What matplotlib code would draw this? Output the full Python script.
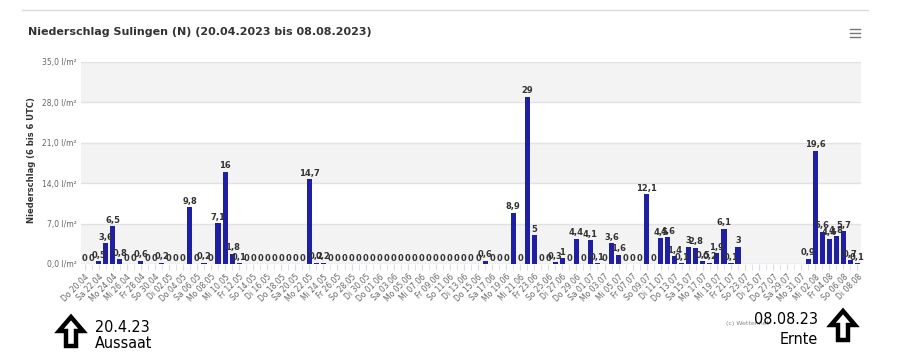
import matplotlib.pyplot as plt
import matplotlib.patches as mpatches
from matplotlib.lines import Line2D
from matplotlib import font_manager
import numpy as np
import pandas as pd

# daily precipitation (l/m²), 20.04.2023 - 08.08.2023, None = no data
dates = pd.date_range("2023-04-20", "2023-08-08", freq="D")
weekdays = ["Mo", "Di", "Mi", "Do", "Fr", "Sa", "So"]
rain = [0, 0, 0.5, 3.6, 6.5, 0.8, 0, 0, 0.6, 0,
        0, 0.2, 0, 0, 0, 9.8, 0, 0.2, 0, 7.1,
        16, 1.8, 0.1, 0, 0, 0, 0, 0, 0, 0,
        0, 0, 14.7, 0.2, 0.2, 0, 0, 0, 0, 0,
        0, 0, 0, 0, 0, 0, 0, 0, 0, 0,
        0, 0, 0, 0, 0, 0, 0, 0.6, 0, 0,
        0, 8.9, 0, 29, 5, 0, 0, 0.3, 1, 0,
        4.4, 0, 4.1, 0.1, 0, 3.6, 1.6, 0, 0, 0,
        12.1, 0, 4.5, 4.6, 1.4, 0.1, 3, 2.8, 0.5, 0.2,
        1.9, 6.1, 0.1, 3, None, None, None, None, None, None,
        None, None, None, 0.9, 19.6, 5.6, 4.4, 4.8, 5.7, 0.7,
        0.1]
yticks = [0, 7, 14, 21, 28, 35]

W, H = 908, 360
fig = plt.figure(figsize=(W / 100, H / 100), dpi=100)
fig.patch.set_facecolor("white")

ax = fig.add_axes([81 / W, 96 / H, 780 / W, 202 / H])
x = np.arange(len(dates))
vals = np.array([np.nan if v is None else v for v in rain], dtype=float)

# alternating bands + grid
for lo in (0, 14, 28):
    ax.axhspan(lo, lo + 7, color="#f3f3f3", zorder=0, lw=0)
for y in yticks:
    ax.axhline(y, color="#e2e2e2", lw=1, zorder=1)

ax.bar(x, np.nan_to_num(vals), width=0.72, color="#1f1fa3", zorder=3)

def fmt(v):
    if float(v).is_integer():
        return str(int(v))
    return ("%.1f" % v).replace(".", ",")

for i, v in zip(x, vals):
    if np.isnan(v):
        continue
    ax.annotate(fmt(v), xy=(i, v), xytext=(0, 1), textcoords="offset points",
                ha="center", va="bottom", fontsize=6, fontweight="bold",
                color="#333333", zorder=4)

ax.set_xlim(-0.5, len(dates) - 0.5)
ax.set_ylim(0, 35)
for s in ax.spines.values():
    s.set_visible(False)

ax.set_yticks(yticks)
ax.set_yticklabels(["%d,0 l/m²" % v for v in yticks], fontsize=5.5, color="#666666")
ax.tick_params(axis="y", length=0, pad=3)

ax.set_xticks(x, minor=True)
ax.set_xticks(x[::2])
ax.set_xticklabels(["%s %s" % (weekdays[d.weekday()], d.strftime("%d.%m")) for d in dates[::2]],
                   rotation=45, ha="right", rotation_mode="anchor",
                   fontsize=5.5, color="#666666")
ax.tick_params(axis="x", which="both", length=4, color="#d8dce8", pad=2)

# title, y label, menu icon
fig.text(28 / W, 1 - 32 / H, "Niederschlag Sulingen (N) (20.04.2023 bis 08.08.2023)",
         fontsize=8, fontweight="bold", color="#333333", va="center")
fig.text(32 / W, 1 - 160 / H, "Niederschlag (6 bis 6 UTC)", rotation=90,
         fontsize=6, fontweight="bold", color="#333333", ha="center", va="center")
fig.add_artist(Line2D([22 / W, 868 / W], [1 - 10 / H] * 2, color="#dadada", lw=1))
for yy in (29, 33, 37):
    fig.add_artist(Line2D([850 / W, 860 / W], [1 - yy / H] * 2, color="#777777", lw=1))

# overlay for annotations below the chart
ov = fig.add_axes([0, 0, 1, 1], facecolor="none")
ov.set_xlim(0, W)
ov.set_ylim(H, 0)
ov.axis("off")

def up_arrow(cx, top, base, bottom, hw=12, sw=5):
    pts = [(cx, top), (cx + hw, base), (cx + sw, base), (cx + sw, bottom),
           (cx - sw, bottom), (cx - sw, base), (cx - hw, base)]
    ov.add_patch(mpatches.Polygon(pts, closed=True, facecolor="white",
                                  edgecolor="black", lw=3.2, joinstyle="miter"))

up_arrow(71, 317, 331, 346)
up_arrow(843, 311, 325, 340)

# condensed font for the hand-added notes
names = {f.name for f in font_manager.fontManager.ttflist}
narrow = [n for n in ("Liberation Sans Narrow", "DejaVu Sans Condensed") if n in names]
narrow = narrow + ["DejaVu Sans"]
note = dict(fontsize=11.5, family=narrow, stretch="condensed", va="center")

ov.text(726, 323, "(c) Wetter.net", fontsize=4.5, color="#888888", va="center")
ov.text(95, 327, "20.4.23", **note)
ov.text(95, 344, "Aussaat", **note)
ov.text(818, 320, "08.08.23", ha="right", **note)
ov.text(818, 339, "Ernte", ha="right", **note)

fig.savefig("out.png", dpi=100, facecolor="white")
